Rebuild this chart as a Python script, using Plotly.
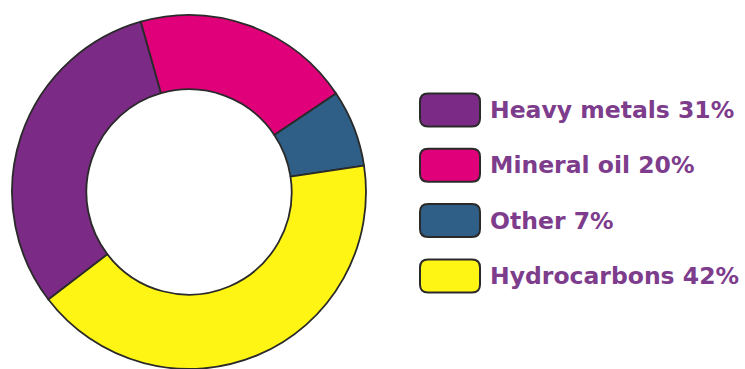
import plotly.graph_objects as go

labels = ["Heavy metals", "Mineral oil", "Other", "Hydrocarbons"]
values = [31, 20, 7, 42]
colors = ["#7B2A86", "#E0007A", "#2F5F86", "#FFF514"]

W, H = 745, 369

fig = go.Figure()
fig.add_trace(go.Pie(
    labels=labels,
    values=values,
    sort=False,
    direction="clockwise",
    rotation=232.6,
    hole=0.58,
    textinfo="none",
    marker=dict(colors=colors, line=dict(color="#2a2a2a", width=1.8)),
    domain=dict(x=[(189 - 177) / W, (189 + 177) / W], y=[0, 354 / H]),
    showlegend=False,
))

# custom legend: rounded boxes + bold purple labels
bx0, bx1 = 420, 480
bh = 33
r = 8
cy0, step = 110, 55.3


def px(x):
    return x / W


def py(y):
    return 1 - y / H


shapes = []
annotations = []
for i, (lab, val, col) in enumerate(zip(labels, values, colors)):
    cy = cy0 + i * step
    y0, y1 = cy - bh / 2, cy + bh / 2
    path = (
        f"M {px(bx0 + r)},{py(y0)} L {px(bx1 - r)},{py(y0)} "
        f"Q {px(bx1)},{py(y0)} {px(bx1)},{py(y0 + r)} "
        f"L {px(bx1)},{py(y1 - r)} Q {px(bx1)},{py(y1)} {px(bx1 - r)},{py(y1)} "
        f"L {px(bx0 + r)},{py(y1)} Q {px(bx0)},{py(y1)} {px(bx0)},{py(y1 - r)} "
        f"L {px(bx0)},{py(y0 + r)} Q {px(bx0)},{py(y0)} {px(bx0 + r)},{py(y0)} Z"
    )
    shapes.append(dict(type="path", xref="paper", yref="paper", path=path,
                       fillcolor=col, line=dict(color="#2a2a2a", width=2)))
    annotations.append(dict(
        x=px(488), y=py(cy), xref="paper", yref="paper",
        xanchor="left", yanchor="middle", showarrow=False,
        text=f"<b>{lab} {val}%</b>",
        font=dict(family="DejaVu Sans", size=23.5, color="#7D3C8C"),
    ))

fig.update_layout(
    width=W, height=H,
    margin=dict(l=0, r=0, t=0, b=0),
    paper_bgcolor="white", plot_bgcolor="white",
    shapes=shapes, annotations=annotations,
)

fig.write_html("out.html")
